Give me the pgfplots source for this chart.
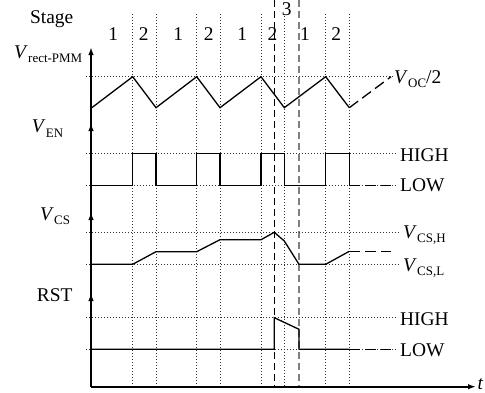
\documentclass[border=0pt]{standalone}
\usepackage{pgfplots}
\pgfplotsset{compat=1.18}
\usepackage{fontspec}
\setmainfont{Liberation Serif}
\usetikzlibrary{arrows.meta}

% signal name: italic V with a lowered, smaller upright subscript
\newcommand\sig[2]{\textit{#1}\kern0.3bp\raisebox{-4.5bp}{\fontsize{13}{13}\selectfont #2}}

\tikzset{
  gridline/.style={black!80, line width=0.8bp, dash pattern=on 1bp off 2bp},
  wave/.style={black, line width=1.3bp},
  ext/.style={black, line width=1.3bp, dash pattern=on 11bp off 5bp},
  axisline/.style={black, line width=1.6bp, -{Latex[length=8bp,width=5.5bp]}},
  lbl/.style={font=\fontsize{19.5}{22}\selectfont, inner sep=0pt},
}

\begin{document}
\begin{tikzpicture}
\begin{axis}[
  at={(0,0)}, anchor=south west,
  scale only axis, width=485bp, height=393bp,
  xmin=0, xmax=485, ymin=0, ymax=393, y dir=reverse,
  axis lines=none, clip=false,
]
% stage boundaries
\addplot[gridline] coordinates {(132.7,14) (132.7,386.7)};
\addplot[gridline] coordinates {(156,14) (156,386.7)};
\addplot[gridline] coordinates {(196.7,14) (196.7,386.7)};
\addplot[gridline] coordinates {(220,14) (220,386.7)};
\addplot[gridline] coordinates {(261,14) (261,386.7)};
\addplot[gridline] coordinates {(284.3,16) (284.3,386.7)};
\addplot[gridline] coordinates {(325.7,14) (325.7,386.7)};
\addplot[gridline] coordinates {(349.3,14) (349.3,386.7)};
% stage 3 markers
\addplot[black, line width=1.2bp, dash pattern=on 7bp off 4bp] coordinates {(274.3,0) (274.3,386.7)};
\addplot[black!50, line width=1.6bp, dash pattern=on 7bp off 4bp] coordinates {(299,0) (299,386.7)};
% reference levels
\addplot[gridline] coordinates {(86,76.7) (393,76.7)};
\addplot[gridline] coordinates {(86,153.7) (398,153.7)};
\addplot[gridline] coordinates {(86,185.7) (398,185.7)};
\addplot[gridline] coordinates {(86,232.3) (400,232.3)};
\addplot[gridline] coordinates {(86,264.3) (400,264.3)};
\addplot[gridline] coordinates {(86,317.7) (398,317.7)};
\addplot[gridline] coordinates {(86,349.3) (398,349.3)};

% V_rect-PMM
\addplot[wave] coordinates {(91,108.3) (132.7,76.7) (156,107.7) (196.7,76.7) (220,107.7) (261,76.7) (284.3,107.7) (325.7,76.7) (349.3,107.7)};
\addplot[ext] coordinates {(349.3,107.7) (391,76.7)};
% V_EN
\addplot[wave] coordinates {(91,185.7) (132.7,185.7) (132.7,153.7) (156,153.7) (156,185.7) (196.7,185.7) (196.7,153.7) (220,153.7) (220,185.7) (261,185.7) (261,153.7) (284.3,153.7) (284.3,185.7) (325.7,185.7) (325.7,153.7) (349.3,153.7) (349.3,185.7)};
\addplot[ext] coordinates {(349.3,185.7) (391,185.7)};
% V_CS
\addplot[wave] coordinates {(91,264.3) (132.7,264.3) (156,251.7) (196.7,251.7) (220,239.7) (261,239.7) (274.3,232.3) (284.3,241) (299,264.3) (325.7,264.3) (349.3,251.3)};
\addplot[ext] coordinates {(349.3,251.3) (391,251.3)};
% RST
\addplot[wave] coordinates {(91,349.3) (274.3,349.3) (274.3,317.7) (299,329.3) (299,349.3) (349.3,349.3)};
\addplot[ext] coordinates {(349.3,349.3) (391,349.3)};

% axes
\addplot[axisline] coordinates {(91,386.7) (91,47)};
\addplot[axisline] coordinates {(91,386.7) (91,123)};
\addplot[axisline] coordinates {(91,386.7) (91,212)};
\addplot[axisline] coordinates {(91,386.7) (91,293)};
\addplot[axisline] coordinates {(91,386.7) (476,386.7)};

% labels
\node[lbl, anchor=base] at (axis cs:51.7,23.3) {Stage};
\node[lbl, anchor=base] at (axis cs:113.3,40) {1};
\node[lbl, anchor=base] at (axis cs:143.8,40) {2};
\node[lbl, anchor=base] at (axis cs:178.3,40) {1};
\node[lbl, anchor=base] at (axis cs:208.7,40) {2};
\node[lbl, anchor=base] at (axis cs:242.2,40) {1};
\node[lbl, anchor=base] at (axis cs:272.5,40) {2};
\node[lbl, anchor=base] at (axis cs:286.7,15) {3};
\node[lbl, anchor=base] at (axis cs:305,40) {1};
\node[lbl, anchor=base] at (axis cs:336.3,40) {2};

\node[lbl, anchor=base west] at (axis cs:14,58.3) {\sig{V}{rect-PMM}};
\node[lbl, anchor=base west] at (axis cs:31.7,132.7) {\sig{V}{EN}};
\node[lbl, anchor=base west] at (axis cs:40,220) {\sig{V}{CS}};
\node[lbl, anchor=base west] at (axis cs:36.7,301) {RST};

\node[lbl, anchor=base west] at (axis cs:394,83) {\sig{V}{OC}/2};
\node[lbl, anchor=base west] at (axis cs:400,161) {HIGH};
\node[lbl, anchor=base west] at (axis cs:400,191.5) {LOW};
\node[lbl, anchor=base west] at (axis cs:403,238) {\sig{V}{CS,H}};
\node[lbl, anchor=base west] at (axis cs:403,271) {\sig{V}{CS,L}};
\node[lbl, anchor=base west] at (axis cs:400,325) {HIGH};
\node[lbl, anchor=base west] at (axis cs:400,356) {LOW};
\node[lbl, anchor=base west] at (axis cs:477.5,389.5) {\textit{t}};
\end{axis}
\pgfresetboundingbox
\path[use as bounding box] (0,0) rectangle (485bp,393bp);
\end{tikzpicture}
\end{document}
